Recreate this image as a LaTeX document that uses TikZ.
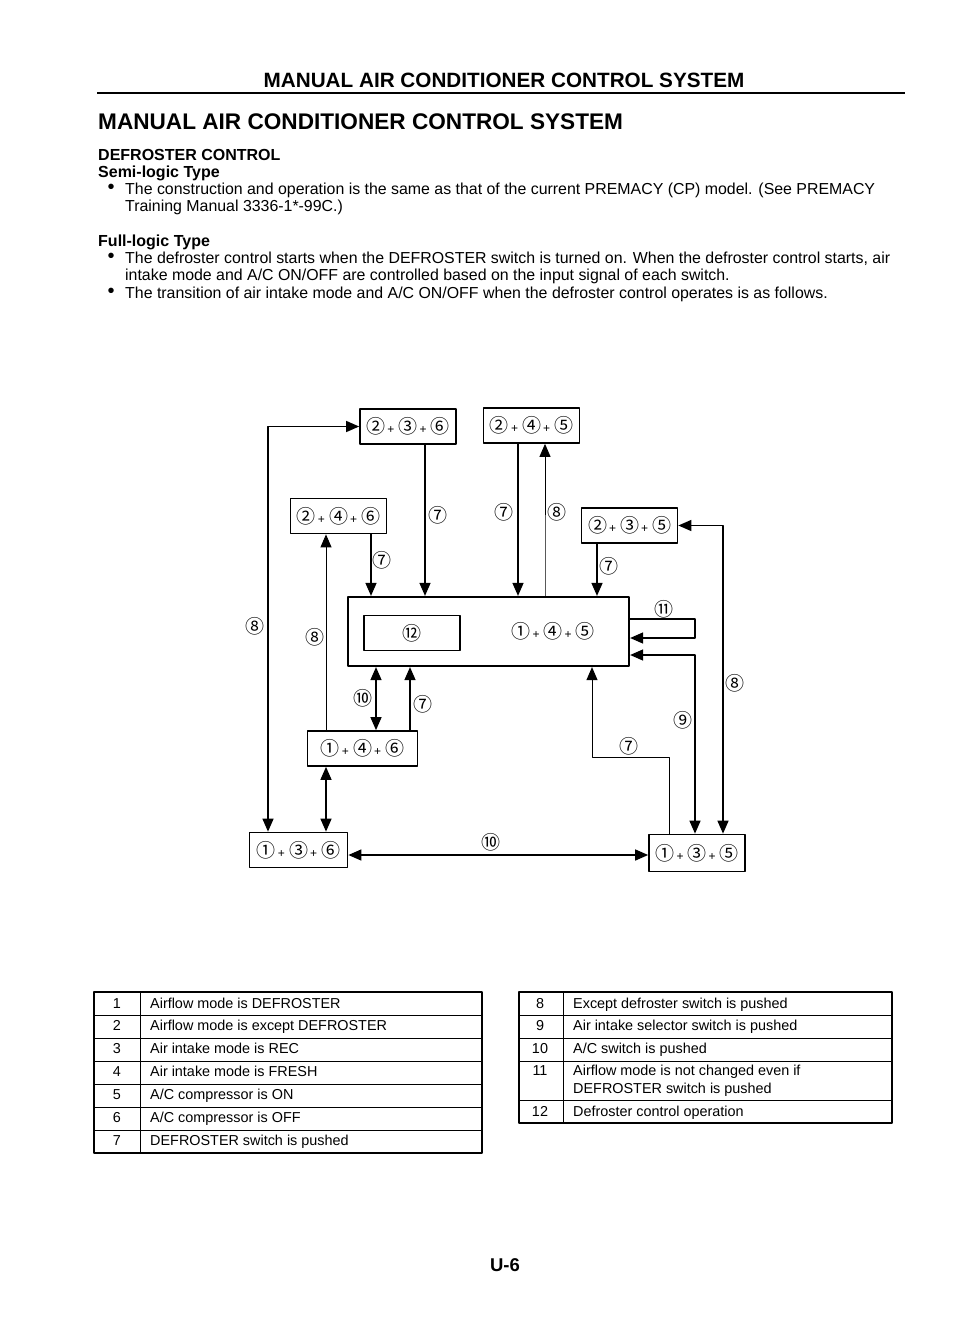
\documentclass[tikz,border=0pt]{standalone}
\usepackage{fontspec}
\setmainfont{Liberation Sans}
\newfontfamily\circfont{Noto Sans CJK SC}
\usetikzlibrary{arrows.meta}
\newcommand{\pl}{{\kern2pt\rmfamily\fontsize{12}{12}\selectfont +\kern4pt}}
\tikzset{
	modebox/.style={draw, line width=1.7pt, minimum width=96pt, minimum height=35pt, inner sep=0pt, font=\circfont\fontsize{19}{19}\selectfont},
	tag/.style={inner sep=0pt, font=\circfont\fontsize{19}{19}\selectfont},
	feed/.style={->, line width=1.4pt},
	twoway/.style={<->, line width=1.4pt},
	faint/.style={line width=.7pt, black!65},
	body/.style={anchor=west, inner sep=0pt, text height=11pt, text depth=1pt, font=\fontsize{15.9}{16}\selectfont},
	head/.style={anchor=west, inner sep=0pt, text height=11pt, text depth=1pt, font=\bfseries\fontsize{16}{16}\selectfont},
	spot/.style={inner sep=0pt, font=\fontsize{20}{20}\selectfont},
	cell/.style={anchor=west, inner sep=0pt, text height=10pt, text depth=1pt, font=\fontsize{14.4}{15}\selectfont},
	num/.style={inner sep=0pt, text height=10pt, text depth=1pt, font=\fontsize{14.4}{15}\selectfont}
}
\begin{document}
\begin{tikzpicture}[x=1pt, y=-1pt, line join=round, >={Triangle[length=13pt,width=11pt]}]
	\useasboundingbox (0,0) rectangle (960,1335);
	% page head
	\node (pagehead) at (504,80) [inner sep=0pt, font=\bfseries\fontsize{20.7}{21}\selectfont]{MANUAL AIR CONDITIONER CONTROL SYSTEM};
	\coordinate (ruleleft) at (97,93);
	\coordinate (ruleright) at (905,93);
	\draw[line width=2.4pt] (ruleleft)--(ruleright);
	\node (title) at (98,122) [anchor=west, inner sep=0pt, font=\bfseries\fontsize{22.6}{23}\selectfont]{MANUAL AIR CONDITIONER CONTROL SYSTEM};
	\node (defhead) at (98,155) [head]{DEFROSTER CONTROL};
	\node (semihead) at (98,172) [head]{Semi-logic Type};
	\node (semidot) at (111,189) [spot]{•};
	\node (semia) at (125,189) [body]{The construction and operation is the same as that of the current PREMACY (CP) model. (See PREMACY};
	\node (semib) at (125,206) [body]{Training Manual 3336-1*-99C.)};
	\node (fullhead) at (98,241) [head]{Full-logic Type};
	\node (fulldota) at (111,258) [spot]{•};
	\node (fulla) at (125,258) [body]{The defroster control starts when the DEFROSTER switch is turned on. When the defroster control starts, air};
	\node (fullb) at (125,275) [body]{intake mode and A/C ON/OFF are controlled based on the input signal of each switch.};
	\node (fulldotb) at (111,293) [spot]{•};
	\node (fullc) at (125,293) [body]{The transition of air intake mode and A/C ON/OFF when the defroster control operates is as follows.};
	% mode boxes
	\node (rtf) at (408,426.5) [modebox]{②\pl③\pl⑥};
	\node (ffo) at (531.5,425.5) [modebox]{②\pl④\pl⑤};
	\node (fff) at (338.5,516) [modebox]{②\pl④\pl⑥};
	\node (rto) at (629.5,525.5) [modebox]{②\pl③\pl⑤};
	\node (defmain) at (488.5,631.5) [modebox, line width=2.2pt, minimum width=281pt, minimum height=69pt]{};
	\node (defop) at (412,633) [modebox, line width=1.4pt]{⑫};
	\node (defstate) at (553,631) [tag]{①\pl④\pl⑤};
	\node (lff) at (362.5,748.5) [modebox, minimum width=110pt]{①\pl④\pl⑥};
	\node (lrf) at (298.5,850) [modebox, minimum width=98pt]{①\pl③\pl⑥};
	\node (lro) at (697,853) [modebox, minimum height=37pt]{①\pl③\pl⑤};
	% rails
	\coordinate (railfar) at (268,0);
	\coordinate (railup) at (326,0);
	\coordinate (railc) at (371,0);
	\coordinate (raildb) at (376,0);
	\coordinate (railseven) at (410,0);
	\coordinate (raila) at (425,0);
	\coordinate (railb) at (518,0);
	\coordinate (railback) at (545,0);
	\coordinate (backmid) at (0,515);
	\coordinate (railback7) at (592,0);
	\coordinate (raild) at (597,0);
	\coordinate (railout) at (669,0);
	\coordinate (railloop) at (695,0);
	\coordinate (railright) at (723,0);
	\coordinate (looptop) at (0,619);
	\coordinate (loopend) at (0,638);
	\coordinate (ninein) at (0,655);
	\coordinate (sevenbend) at (0,757);
	\coordinate (joinlow) at (0,855);
	% connectors
	\draw[twoway] (rtf.west) -| (lrf.north -| railfar);
	\draw[feed] (rtf.south -| raila)--(defmain.north -| raila);
	\draw[feed] (fff.south -| railc)--(defmain.north -| railc);
	\draw[feed] (ffo.south -| railb)--(defmain.north -| railb);
	\draw[feed] (rto.south -| raild)--(defmain.north -| raild);
	\draw[feed, line width=.9pt] (railback |- backmid)--(ffo.south -| railback);
	\draw[faint] (defmain.north -| railback)--(railback |- backmid);
	\draw[feed, line width=.9pt] (lff.north -| railup)--(fff.south -| railup);
	\draw[twoway] (defmain.south -| raildb)--(lff.north -| raildb);
	\draw[feed] (lff.north -| railseven)--(defmain.south -| railseven);
	\draw[twoway] (lff.south -| railup)--(lrf.north -| railup);
	\draw[twoway] (lrf.east |- joinlow)--(lro.west |- joinlow);
	\draw[feed, line width=1pt] (lro.north -| railout)--(railout |- sevenbend)--(railback7 |- sevenbend)--(defmain.south -| railback7);
	\draw[twoway] (defmain.east |- ninein)-|(lro.north -| railloop);
	\draw[twoway] (rto.east)-|(lro.north -| railright);
	\draw[feed] (defmain.east |- looptop)--(railloop |- looptop)--(railloop |- loopend)--(defmain.east |- loopend);
	% marks
	\node (marka) at (438,515) [tag]{⑦};
	\node (markb) at (504,512) [tag]{⑦};
	\node (markback) at (557,512) [tag]{⑧};
	\node (markc) at (382,560) [tag]{⑦};
	\node (markd) at (609,566) [tag]{⑦};
	\node (markfar) at (255,626) [tag]{⑧};
	\node (markup) at (315,637) [tag]{⑧};
	\node (markloop) at (664,609) [tag]{⑪};
	\node (markright) at (735,683) [tag]{⑧};
	\node (markdb) at (362.5,698) [tag]{⑩};
	\node (markseven) at (423,704) [tag]{⑦};
	\node (marknine) at (683,720) [tag]{⑨};
	\node (markout) at (629,746) [tag]{⑦};
	\node (marklow) at (491,842) [tag]{⑩};
	% left table
	\draw[line width=1.2pt] (94,992) rectangle (482,1153);
	\draw[line width=1pt] (94,1015)--(482,1015) (94,1038)--(482,1038) (94,1061)--(482,1061) (94,1084)--(482,1084) (94,1107)--(482,1107) (94,1130)--(482,1130) (140,992)--(140,1153);
	\node (na) at (117,1004) [num]{1};
	\node (nb) at (117,1026) [num]{2};
	\node (nc) at (117,1049) [num]{3};
	\node (nd) at (117,1072) [num]{4};
	\node (ne) at (117,1095) [num]{5};
	\node (nf) at (117,1118) [num]{6};
	\node (ng) at (117,1141) [num]{7};
	\node (ca) at (150,1004) [cell]{Airflow mode is DEFROSTER};
	\node (cb) at (150,1026) [cell]{Airflow mode is except DEFROSTER};
	\node (cc) at (150,1049) [cell]{Air intake mode is REC};
	\node (cd) at (150,1072) [cell]{Air intake mode is FRESH};
	\node (ce) at (150,1095) [cell]{A/C compressor is ON};
	\node (cf) at (150,1118) [cell]{A/C compressor is OFF};
	\node (cg) at (150,1141) [cell]{DEFROSTER switch is pushed};
	% right table
	\draw[line width=1.2pt] (519,992) rectangle (892,1123);
	\draw[line width=1pt] (519,1015)--(892,1015) (519,1038)--(892,1038) (519,1061)--(892,1061) (519,1100)--(892,1100) (563,992)--(563,1123);
	\node (nh) at (540,1004) [num]{8};
	\node (ni) at (540,1026) [num]{9};
	\node (nj) at (540,1049) [num]{10};
	\node (nk) at (540,1071) [num]{11};
	\node (nl) at (540,1112) [num]{12};
	\node (ch) at (573,1004) [cell]{Except defroster switch is pushed};
	\node (ci) at (573,1026) [cell]{Air intake selector switch is pushed};
	\node (cj) at (573,1049) [cell]{A/C switch is pushed};
	\node (ck) at (573,1071) [cell]{Airflow mode is not changed even if};
	\node (cl) at (573,1089) [cell]{DEFROSTER switch is pushed};
	\node (cm) at (573,1112) [cell]{Defroster control operation};
	\node (pageno) at (505,1265) [inner sep=0pt, font=\bfseries\fontsize{18.5}{19}\selectfont]{U-6};
\end{tikzpicture}
\end{document}
